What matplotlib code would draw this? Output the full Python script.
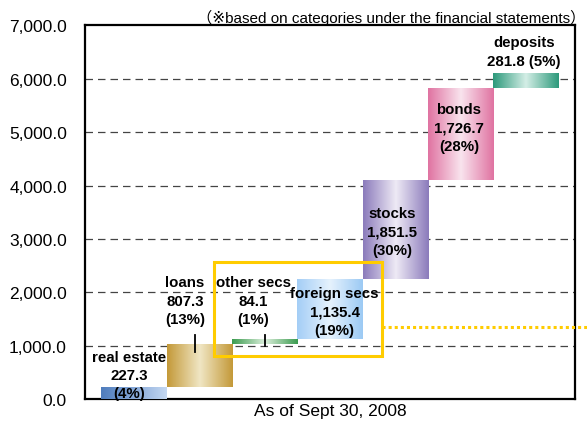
import matplotlib
matplotlib.use('Agg')
import matplotlib.pyplot as plt
import matplotlib.patches as mpatches
from matplotlib.colors import to_rgb
import numpy as np

plt.rcParams['font.family'] = ['Liberation Sans', 'DejaVu Sans', 'Noto Sans CJK JP']

# data (100 million yen, as of Sept 30, 2008)
categories = ['real estate', 'loans', 'other secs', 'foreign secs', 'stocks', 'bonds', 'deposits']
amounts = [227.3, 807.3, 84.1, 1135.4, 1851.5, 1726.7, 281.8]
shares = [4, 13, 1, 19, 30, 28, 5]
yticks = [0, 1000, 2000, 3000, 4000, 5000, 6000, 7000]

# gradient colours per bar: left edge, middle, right edge
grad_colors = [
    ('#4f7dbd', '#86a8d8', '#c4d8f2'),
    ('#c49a3a', '#f0e6c4', '#c49a3a'),
    ('#3c9c50', '#dcefdc', '#3c9c50'),
    ('#a4cef6', '#e6f2fd', '#9ccaf4'),
    ('#8c7cbc', '#eeeaf5', '#8c7cbc'),
    ('#e074a2', '#f9e4ee', '#e074a2'),
    ('#2e9a7c', '#d4eee6', '#2e9a7c'),
]

# label anchor (x, y) in data coords for each bar
label_pos = [(-0.07, 450), (0.78, 1845), (1.83, 1845), (3.07, 1638),
             (3.95, 3140), (4.97, 5080), (5.97, 6510)]


def make_gradient(left, mid, right, n=64):
    l, m, r = np.array(to_rgb(left)), np.array(to_rgb(mid)), np.array(to_rgb(right))
    t = np.linspace(0, 1, n)
    rows = []
    for v in t:
        if v < 0.5:
            rows.append(l + (m - l) * (v / 0.5))
        else:
            rows.append(m + (r - m) * ((v - 0.5) / 0.5))
    return np.array(rows)[None, :, :]


def main():
    fig = plt.figure(figsize=(5.87, 4.27), dpi=100)
    ax = fig.add_axes([0.1448, 0.0632, 0.835, 0.875])

    bases = np.concatenate([[0], np.cumsum(amounts)[:-1]])
    x = np.arange(len(categories))
    bars = ax.bar(x, amounts, bottom=bases, width=1.0, color='none',
                  edgecolor='none', zorder=3)

    for bar, gc in zip(bars, grad_colors):
        x0, y0 = bar.get_x(), bar.get_y()
        w, h = bar.get_width(), bar.get_height()
        img = ax.imshow(make_gradient(*gc), extent=[x0, x0 + w, y0, y0 + h],
                        aspect='auto', interpolation='bilinear', zorder=3)
        img.set_clip_path(bar)

    ax.set_xlim(-0.75, 6.75)
    ax.set_ylim(0, 7000)
    ax.set_yticks(yticks)
    ax.set_yticklabels(['{:,.1f}'.format(v) for v in yticks], fontsize=12.5)
    ax.set_xticks([])
    ax.tick_params(axis='y', length=0, pad=13)

    for v in yticks[1:-1]:
        ax.axhline(v, color='#444444', lw=0.9, dashes=(6, 4), zorder=1)

    for sp in ax.spines.values():
        sp.set_linewidth(1.6)
        sp.set_color('black')

    # bar labels
    for i, (cat, amt, pct) in enumerate(zip(categories, amounts, shares)):
        lx, ly = label_pos[i]
        if cat == 'deposits':
            txt = '%s\n%s (%d%%)' % (cat, '{:,.1f}'.format(amt), pct)
        else:
            txt = '%s\n%s\n(%d%%)' % (cat, '{:,.1f}'.format(amt), pct)
        ax.text(lx, ly, txt, ha='center', va='center', fontsize=10.8,
                fontweight='bold', linespacing=1.4, zorder=5)

    # leader ticks
    ax.plot([0.93, 0.93], [880, 1190], color='black', lw=1.3, zorder=4)
    ax.plot([2.01, 2.01], [1000, 1190], color='black', lw=1.3, zorder=4)

    # yellow highlight box with dotted line to the right
    box = mpatches.Rectangle((1.22, 810), 2.57, 1766, fill=False,
                             edgecolor='#ffcc00', lw=2.2, zorder=6)
    ax.add_patch(box)
    ax.plot([3.79, 6.95], [1356, 1356], color='#ffcc00', lw=2.2,
            linestyle=(0, (1, 1)), zorder=6, clip_on=False)

    ax.set_xlabel('As of Sept 30, 2008', fontsize=12.5, labelpad=3)
    fig.text(0.997, 0.958, '（※based on categories under the financial statements）',
             ha='right', va='center', fontsize=11)

    plt.savefig('out.png', dpi=100)


if __name__ == '__main__':
    main()
